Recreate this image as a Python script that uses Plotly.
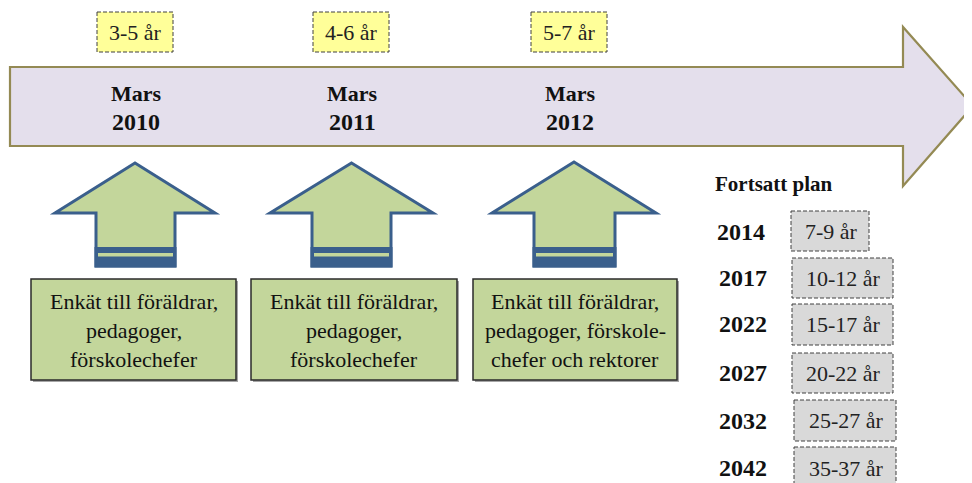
import plotly.graph_objects as go

# ---------------- data ----------------
survey_month = ["Mars", "Mars", "Mars"]
survey_years = ["2010", "2011", "2012"]
survey_ages = ["3-5 år", "4-6 år", "5-7 år"]
survey_texts = [
    ["Enkät till föräldrar,", "pedagoger,", "förskolechefer"],
    ["Enkät till föräldrar,", "pedagoger,", "förskolechefer"],
    ["Enkät till föräldrar,", "pedagoger, förskole-", "chefer och rektorer"],
]
plan_title = "Fortsatt plan"
plan_years = ["2014", "2017", "2022", "2027", "2032", "2042"]
plan_ages = ["7-9 år", "10-12 år", "15-17 år", "20-22 år", "25-27 år", "35-37 år"]

# ---------------- layout / style ----------------
W, H = 972, 483
OFF = 8  # page body margin compensation
SERIF = "Liberation Serif, Times New Roman, serif"
LAV = "#E4DFEC"
OLIVE = "#948A54"
GREEN = "#C3D69B"
BLUE = "#3A5F8C"
YELLOW = "#FFFF99"
GREY = "#D9D9D9"
DASH = "4px,2px"

stage_cx = [136, 352, 570]
arrow_geo = [  # (head_left, head_right, shaft_left, shaft_right, tip_y)
    (55, 215, 96, 175, 163),
    (270, 433, 312, 391, 163),
    (492, 656, 534, 615, 162),
]
box_geo = [(31, 236), (251, 457), (473, 677)]
plan_rows_y = [232, 278, 324, 373, 421, 468]
plan_label_y = [231, 278, 324, 373, 420, 468]
plan_boxes = [(791, 869, 211, 251), (792, 893, 258, 298), (792, 893, 304, 345),
              (792, 893, 353, 393), (794, 896, 400, 441), (794, 896, 447, 490)]

shapes = []
ann = []

# Big timeline arrow
shapes.append(dict(type="path", xref="x", yref="y",
                   path="M 10 67 L 903 67 L 903 27 L 973 106 L 903 186 L 903 146 L 10 146 Z",
                   fillcolor=LAV, line=dict(color=OLIVE, width=2.2), layer="below"))

for i in range(3):
    cx = stage_cx[i]
    # age label (dashed yellow box)
    shapes.append(dict(type="rect", xref="x", yref="y", x0=cx - 39, x1=cx + 37, y0=12, y1=52,
                       fillcolor=YELLOW, line=dict(color="#404040", width=1, dash=DASH)))
    ann.append(dict(x=cx - 1, y=32, text=survey_ages[i], font=dict(size=22, color="#222", family=SERIF)))
    # month / year
    ann.append(dict(x=cx, y=93, text="<b>" + survey_month[i] + "</b>", font=dict(size=22, color="#111", family=SERIF)))
    ann.append(dict(x=cx, y=122, text="<b>" + survey_years[i] + "</b>", font=dict(size=24, color="#111", family=SERIF)))

    # small up arrow
    hl, hr, sl, sr, ty = arrow_geo[i]
    tx = (hl + hr) / 2
    hb = 213
    bot = 266
    shapes.append(dict(type="path", xref="x", yref="y",
                       path=f"M {tx} {ty} L {hr} {hb} L {sr} {hb} L {sr} {bot} L {sl} {bot} L {sl} {hb} L {hl} {hb} Z",
                       fillcolor=GREEN, line=dict(color=BLUE, width=3)))
    shapes.append(dict(type="rect", xref="x", yref="y", x0=sl - 1.5, x1=sr + 1.5, y0=247, y1=bot + 1.5,
                       fillcolor=BLUE, line=dict(width=0)))
    shapes.append(dict(type="rect", xref="x", yref="y", x0=sl + 2, x1=sr - 2, y0=253, y1=256.5,
                       fillcolor=GREEN, line=dict(width=0)))

    # survey description box
    bx0, bx1 = box_geo[i]
    shapes.append(dict(type="rect", xref="x", yref="y", x0=bx0 + 2, x1=bx1 + 2, y0=281, y1=382,
                       fillcolor="#A6A6A6", line=dict(width=0)))
    shapes.append(dict(type="rect", xref="x", yref="y", x0=bx0, x1=bx1, y0=279, y1=380,
                       fillcolor=GREEN, line=dict(color="#2b2b2b", width=1.5)))
    for j, line in enumerate(survey_texts[i]):
        ann.append(dict(x=(bx0 + bx1) / 2, y=301 + 29 * j, text=line,
                        font=dict(size=22, color="#111", family=SERIF)))

# Continued plan
ann.append(dict(x=713, y=184, text="<b>" + plan_title + "</b>", xanchor="left",
                font=dict(size=21, color="#111", family=SERIF)))
for k in range(len(plan_years)):
    x0, x1, y0, y1 = plan_boxes[k]
    shapes.append(dict(type="rect", xref="x", yref="y", x0=x0, x1=x1, y0=y0, y1=y1,
                       fillcolor=GREY, line=dict(color="#404040", width=1, dash=DASH)))
    ann.append(dict(x=(x0 + x1) / 2 + 1, y=plan_label_y[k], text=plan_ages[k],
                    font=dict(size=22, color="#222", family=SERIF)))
    ann.append(dict(x=715 + (2 if k > 0 else 0), y=plan_rows_y[k], text="<b>" + plan_years[k] + "</b>",
                    xanchor="left", font=dict(size=24, color="#111", family=SERIF)))

for a in ann:
    a.setdefault("xanchor", "center")
    a["yanchor"] = "middle"
    a["xref"] = "x"
    a["yref"] = "y"
    a["showarrow"] = False

fig = go.Figure()
fig.update_layout(
    width=W, height=H,
    margin=dict(l=0, r=0, t=0, b=0),
    paper_bgcolor="white", plot_bgcolor="white",
    xaxis=dict(range=[OFF, W + OFF], visible=False, fixedrange=True),
    yaxis=dict(range=[H + OFF, OFF], visible=False, fixedrange=True),
    shapes=shapes, annotations=ann, showlegend=False,
)
fig.write_html("out.html")
